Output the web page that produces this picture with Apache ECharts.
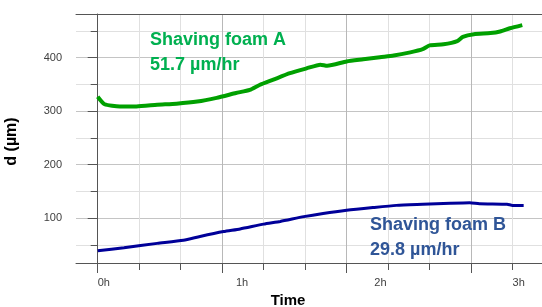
<!DOCTYPE html>
<html>
<head>
<meta charset="utf-8">
<script src="https://cdn.jsdelivr.net/npm/echarts@6/dist/echarts.min.js"></script>
<style>
html,body{margin:0;padding:0;background:#fff;}
#chart{width:542px;height:307px;}
</style>
</head>
<body>
<div id="chart"></div>
<script>
// ---- data (time in hours, d in µm) ----
const timesA  = [0, 0.05, 0.16, 0.28, 0.43, 0.57, 0.72, 0.86, 1.0, 1.1, 1.17, 1.27, 1.39, 1.51, 1.61, 1.66, 1.8, 1.92, 2.04, 2.14, 2.26, 2.35, 2.4, 2.5, 2.6, 2.64, 2.72, 2.84, 2.91, 2.98, 3.07];
const valuesA = [327, 313, 309, 309, 312, 314, 318, 325, 334, 340, 349, 359, 371, 380, 387, 385, 393, 397, 401, 404, 410, 416, 423, 425, 431, 439, 444, 446, 449, 455, 461];
const timesB  = [0, 0.19, 0.43, 0.62, 0.74, 0.91, 1.03, 1.2, 1.32, 1.49, 1.63, 1.8, 1.99, 2.16, 2.35, 2.55, 2.69, 2.76, 2.96, 3.0, 3.08];
const valuesB = [39, 45, 53, 59, 66, 75, 80, 89, 94, 103, 109, 115, 120, 124, 126, 128, 129, 127, 126, 124, 124];
const seriesNames = ['Shaving foam A', 'Shaving foam B'];
const rates = ['51.7 µm/hr', '29.8 µm/hr'];

// ---- axis ticks ----
const xLabelValues = [0, 1, 2, 3];
const xMajorTicks = [0, 0.9, 1.8, 2.7];
const xMajorGrid = [0.9, 1.8, 2.7];
const xMinorTicks = [0, 0.3, 0.6, 1.2, 1.5, 2.1, 2.4, 3.0];
const yMajorTicks = [100, 200, 300, 400];
const yMinorTicks = [50, 150, 250, 350, 450];

const X_MIN = -0.1569, X_MAX = 3.2415;
const Y_MIN = 16.3, Y_MAX = 481.7;

const FONT = 'Liberation Sans';
const axisDark = '#555';

function zip(t, v) { return t.map((x, i) => [x, v[i]]); }

const chart = echarts.init(document.getElementById('chart'), null, {renderer: 'canvas'});
const baseX = {type: 'value', min: X_MIN, max: X_MAX, gridIndex: 0};
const baseY = {type: 'value', min: Y_MIN, max: Y_MAX, gridIndex: 0};

chart.setOption({
  animation: false,
  backgroundColor: '#fff',
  grid: {left: 76, top: 14, width: 470, height: 249, containLabel: false, outerBoundsMode: 'none'},
  xAxis: [
    Object.assign({}, baseX, {
      position: 'bottom',
      name: 'Time', nameLocation: 'middle', nameGap: 29,
      nameTextStyle: {fontFamily: FONT, fontSize: 15, fontWeight: 'bold', color: '#000', padding: [0, 46, 0, 0]},
      axisLine: {show: true, lineStyle: {color: axisDark, width: 1}},
      axisTick: {show: true, length: 10, customValues: xMajorTicks, lineStyle: {color: axisDark}},
      axisLabel: {show: true, customValues: xLabelValues, align: 'left', margin: 14,
        fontFamily: FONT, fontSize: 11, color: '#404040', formatter: v => v + 'h'},
      splitLine: {show: false}
    }),
    Object.assign({}, baseX, {
      position: 'bottom',
      axisLine: {show: false},
      axisTick: {show: true, length: 7, customValues: xMinorTicks, lineStyle: {color: axisDark}},
      axisLabel: {show: false},
      splitLine: {show: true, lineStyle: {color: '#e0e0e0', width: 1}}
    }),
    Object.assign({}, baseX, {
      position: 'bottom',
      axisLine: {show: false},
      axisTick: {show: false, customValues: xMajorGrid},
      axisLabel: {show: false},
      splitLine: {show: true, lineStyle: {color: '#b8b8b8', width: 1}}
    }),
    Object.assign({}, baseX, {
      position: 'top',
      axisLine: {show: true, lineStyle: {color: axisDark, width: 1}},
      axisTick: {show: false}, axisLabel: {show: false}, splitLine: {show: false}
    })
  ],
  yAxis: [
    Object.assign({}, baseY, {
      position: 'left',
      name: 'd (µm)', nameLocation: 'middle', nameGap: 56, nameRotate: 90,
      nameTextStyle: {fontFamily: FONT, fontSize: 16, fontWeight: 'bold', color: '#000', padding: [0, 6, 0, 0]},
      axisLine: {show: true, lineStyle: {color: axisDark, width: 1}},
      axisTick: {show: true, length: 10, customValues: yMajorTicks, lineStyle: {color: axisDark}},
      axisLabel: {show: true, customValues: yMajorTicks, margin: 14,
        fontFamily: FONT, fontSize: 11, color: '#404040'},
      splitLine: {show: true, lineStyle: {color: '#c4c4c4', width: 1}}
    }),
    Object.assign({}, baseY, {
      position: 'left',
      axisLine: {show: false},
      axisTick: {show: true, length: 7, customValues: yMinorTicks, lineStyle: {color: axisDark}},
      axisLabel: {show: false},
      splitLine: {show: true, lineStyle: {color: '#e0e0e0', width: 1}}
    })
  ],
  series: [
    {
      name: seriesNames[0], type: 'line', xAxisIndex: 0, yAxisIndex: 0,
      data: zip(timesA, valuesA), showSymbol: false, smooth: 0.2,
      lineStyle: {color: '#00a000', width: 4}, z: 5
    },
    {
      name: seriesNames[1], type: 'line', xAxisIndex: 0, yAxisIndex: 0,
      data: zip(timesB, valuesB), showSymbol: false, smooth: 0.2,
      lineStyle: {color: '#000099', width: 3}, z: 5
    }
  ],
  graphic: [
    {type: 'text', left: 150, top: 28, z: 10, style: {
      text: seriesNames[0] + '\n' + rates[0], fill: '#00b050',
      font: 'bold 18px "Liberation Sans"', lineHeight: 25}},
    {type: 'text', left: 370, top: 213, z: 10, style: {
      text: seriesNames[1] + '\n' + rates[1], fill: '#2f5597',
      font: 'bold 18px "Liberation Sans"', lineHeight: 25}}
  ]
});
</script>
</body>
</html>
